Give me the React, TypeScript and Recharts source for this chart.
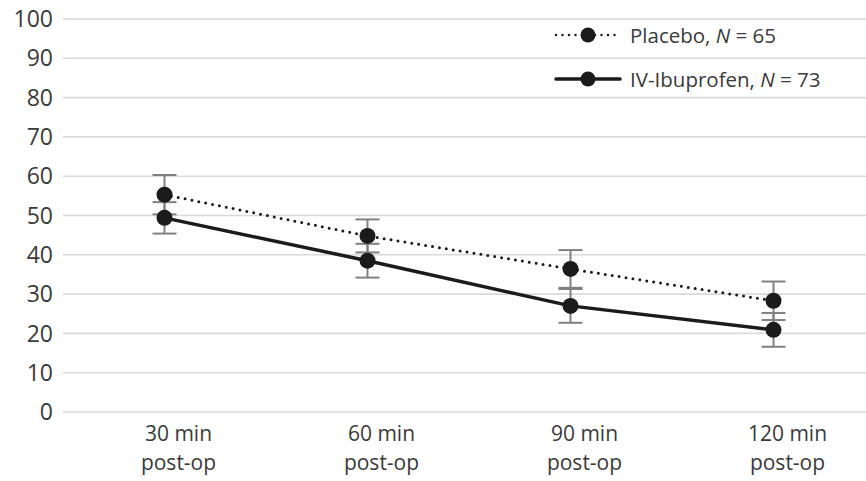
import React from 'react';
import { LineChart, Line, XAxis, YAxis, CartesianGrid, ErrorBar } from 'recharts';

const categories = ['30 min|post-op', '60 min|post-op', '90 min|post-op', '120 min|post-op'];
const placebo = [55.3, 44.8, 36.4, 28.3];
const placeboErr = [5.0, 4.2, 4.8, 4.9];
const ibuprofen = [49.4, 38.5, 27.0, 20.9];
const ibuprofenErr = [4.0, 4.3, 4.3, 4.3];
const yTicks = [0, 10, 20, 30, 40, 50, 60, 70, 80, 90, 100];

const FONT = '"Open Sans", "Noto Sans", sans-serif';
const TEXT = '#3a3a3a';
const INK = '#1b1b1b';

const data = categories.map((c, i) => ({
  name: c,
  placebo: placebo[i],
  placeboErr: placeboErr[i],
  ibuprofen: ibuprofen[i],
  ibuprofenErr: ibuprofenErr[i],
}));

// two-line category label, shifted a bit right like the original
function CategoryTick({ x, y, payload }: any) {
  const [a, b] = String(payload.value).split('|');
  const cx = x + 14;
  return (
    <g>
      <text x={cx} y={y + 29} textAnchor="middle" fill={TEXT} fontSize={21} fontFamily={FONT}>
        {a}
      </text>
      <text x={cx} y={y + 58} textAnchor="middle" fill={TEXT} fontSize={21} fontFamily={FONT}>
        {b}
      </text>
    </g>
  );
}

function LegendBox() {
  const rows = [
    { label: 'Placebo, ', n: '65', dashed: true },
    { label: 'IV-Ibuprofen, ', n: '73', dashed: false },
  ];
  return (
    <div
      style={{
        position: 'absolute',
        left: 553,
        top: 13,
        fontFamily: FONT,
        fontSize: 20.5,
        color: TEXT,
      }}
    >
      {rows.map((r) => (
        <div key={r.n} style={{ display: 'flex', alignItems: 'center', height: 44 }}>
          <svg width={72} height={20} style={{ marginRight: 5 }}>
            <line
              x1={3}
              x2={67}
              y1={10}
              y2={10}
              stroke={INK}
              strokeWidth={r.dashed ? 2.5 : 3.5}
              strokeDasharray={r.dashed ? '0 6.5' : undefined}
              strokeLinecap="round"
            />
            <circle cx={35} cy={10} r={7.5} fill={INK} />
          </svg>
          <span style={{ whiteSpace: 'nowrap' }}>
            {r.label}
            <i>N</i> = {r.n}
          </span>
        </div>
      ))}
    </div>
  );
}

export default function App() {
  return (
    <div style={{ position: 'absolute', left: 0, top: 0, width: 866, height: 481, overflow: 'hidden', background: '#fff' }}>
      <LineChart width={875} height={481} data={data} margin={{ top: 19, right: 0, bottom: 0, left: 0 }}>
        <CartesianGrid horizontal vertical={false} stroke="#d9d9d9" strokeWidth={1.6} />
        <XAxis
          dataKey="name"
          height={69}
          axisLine={false}
          tickLine={false}
          tickSize={0}
          tickMargin={0}
          padding={{ left: 101.5, right: 101.5 }}
          tick={<CategoryTick />}
          interval={0}
        />
        <YAxis
          width={63}
          domain={[0, 100]}
          ticks={yTicks}
          interval={0}
          axisLine={false}
          tickLine={false}
          tickSize={0}
          tickMargin={10}
          tick={{ fill: TEXT, fontSize: 23, fontFamily: FONT }}
        />
        <Line
          dataKey="ibuprofen"
          stroke={INK}
          strokeWidth={3.5}
          dot={{ r: 8, fill: INK, stroke: INK, strokeWidth: 0 }}
          activeDot={false}
          isAnimationActive={false}
        >
          <ErrorBar dataKey="ibuprofenErr" width={12} stroke="#808080" strokeWidth={2} />
        </Line>
        <Line
          dataKey="placebo"
          stroke={INK}
          strokeWidth={3}
          strokeDasharray="0 7"
          strokeLinecap="round"
          dot={{ r: 8, fill: INK, stroke: INK, strokeWidth: 0, strokeDasharray: '' }}
          activeDot={false}
          isAnimationActive={false}
        >
          <ErrorBar dataKey="placeboErr" width={12} stroke="#808080" strokeWidth={2} />
        </Line>
      </LineChart>
      <LegendBox />
    </div>
  );
}
